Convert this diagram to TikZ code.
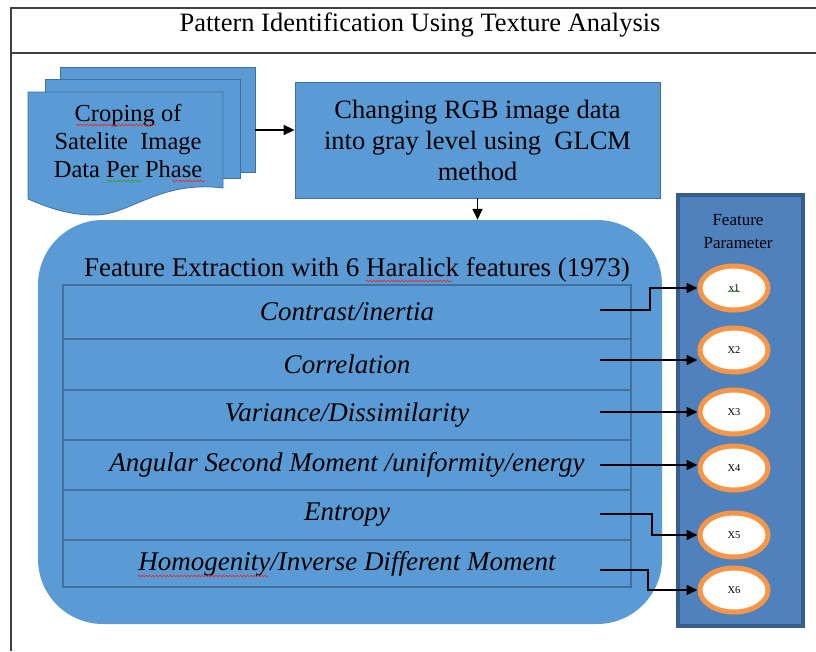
\documentclass[tikz,border=0pt]{standalone}
\usepackage{fontspec}
\setmainfont{Liberation Serif}
\usetikzlibrary{arrows.meta,shapes.geometric,calc,decorations.pathmorphing}
\definecolor{boxblue}{HTML}{5B9BD5}
\definecolor{boxedge}{HTML}{41719C}
\definecolor{panelfill}{HTML}{4F81BD}
\definecolor{paneledge}{HTML}{385D8A}
\definecolor{ovalorange}{HTML}{F79646}
\definecolor{framegray}{HTML}{404040}
\definecolor{spellred}{HTML}{E03030}
\definecolor{spellgreen}{HTML}{30A030}
\newcommand\fA{\fontsize{26.5}{31}\selectfont}
\newcommand\fE{\fontsize{27}{31}\selectfont}
\newcommand\fB{\fontsize{24.5}{28}\selectfont}
\newcommand\fC{\fontsize{17}{23}\selectfont}
\newcommand\fD{\fontsize{10.5}{12}\selectfont}
\begin{document}
\begin{tikzpicture}[x=1pt,y=-1pt,
  sheet/.style={draw=boxedge,line width=0.8pt,fill=boxblue,rectangle,minimum width=195pt,inner sep=0pt},
  bluebox/.style={draw=boxedge,line width=0.8pt,fill=boxblue,rectangle,inner sep=0pt,align=center,font=\fA},
  rowbox/.style={draw=boxedge,line width=1.2pt,rectangle,minimum width=568pt,inner sep=0pt,font=\fE\itshape},
  oval/.style={ellipse,draw=ovalorange,line width=5pt,fill=white,minimum width=68pt,minimum height=44pt,inner sep=0pt,font=\fD},
  arr/.style={line width=1.5pt,-{Triangle[length=11pt,width=10pt]}},
  squig/.style={line width=0.7pt,decorate,decoration={snake,amplitude=0.9pt,segment length=3.5pt}}
]
\useasboundingbox (0,0) rectangle (816,651);
% outer frame
\draw[framegray,line width=2.2pt] (816,8) -- (11,8) -- (11,651);
\draw[framegray,line width=1.5pt] (11,53) -- (816,53);
\node[font=\fA,anchor=base] (title) at (420,31) {Pattern Identification Using Texture Analysis};

% stacked documents
\node[sheet,minimum height=105pt] (back) at (157.5,119.5) {};
\node[sheet,minimum height=99pt] (mid) at (142.5,128.5) {};
\draw[draw=boxedge,line width=0.8pt,fill=boxblue] (28,92) -- (223,92) -- (223,188)
  .. controls (160,180) and (130,215) .. (95,215)
  .. controls (65,215) and (45,206) .. (28,199) -- cycle;
\node[font=\fB,align=center] (doc) at (128,141) {Croping of\\Satelite~ Image\\Data Per Phase};
\draw[squig,spellred] (76,125) -- (156,125);
\draw[squig,spellgreen] (106,181) -- (142,181);
\draw[squig,spellred] (172,181) -- (205,181);

% GLCM box
\node[bluebox,minimum width=365pt,minimum height=116pt] (glcm) at (477.5,140)
  {Changing RGB image data\\into gray level using~ GLCM\\method};
\coordinate (d0) at (255,130);
\draw[arr] (d0) -- (d0 -| glcm.west);

% feature extraction box
\node[fill=boxblue,rectangle,rounded corners=65pt,minimum width=624pt,minimum height=404pt,inner sep=0pt] (fe) at (350,422) {};
\draw[arr] (glcm.south) -- (glcm.south |- fe.north);
\node[font=\fE,anchor=base] (fetitle) at (357,276) {Feature Extraction with 6 Haralick features (1973)};
\draw[squig,spellred] (366,281) -- (452,281);

\node[rowbox,minimum height=54pt] (r1) at (347,312) {Contrast/inertia};
\node[rowbox,minimum height=51pt] (r2) at (347,364.5) {Correlation};
\node[rowbox,minimum height=50pt] (r3) at (347,415) {Variance/Dissimilarity};
\node[rowbox,minimum height=50pt] (r4) at (347,465) {Angular Second Moment /uniformity/energy};
\node[rowbox,minimum height=50pt] (r5) at (347,515) {Entropy};
\node[rowbox,minimum height=47pt] (r6) at (347,563.5) {Homogenity/Inverse Different Moment};
\draw[squig,spellred] (138,576) -- (268,576);

% feature parameter panel
\node[draw=paneledge,line width=3.5pt,fill=panelfill,rectangle,minimum width=125pt,minimum height=431pt,inner sep=0pt] (panel) at (740.5,410.5) {};
\node[font=\fC,align=center] (ptitle) at (738,232) {Feature\\Parameter};

\node[oval] (e1) at (734,288) {x1};
\node[oval] (e2) at (734,350) {X2};
\node[oval] (e3) at (734,412) {X3};
\node[oval] (e4) at (734,468) {X4};
\node[oval] (e5) at (734,535) {X5};
\node[oval] (e6) at (734,590) {X6};
\draw[spellgreen,line width=0.8pt] ($(e1.center)+(-6,3)$) -- ($(e1.center)+(6,3)$);

\coordinate (s1) at (600,310);
\coordinate (s2) at (600,360);
\coordinate (s3) at (600,412);
\coordinate (s4) at (600,465);
\coordinate (s5) at (600,514);
\coordinate (s6) at (600,570);
\draw[arr] (s1) -- ++(50,0) |- (e1.west);
\draw[arr] (s2) -- (s2 -| e2.west);
\draw[arr] (s3) -- (s3 -| e3.west);
\draw[arr] (s4) -- (s4 -| e4.west);
\draw[arr] (s5) -- ++(52,0) |- (e5.west);
\draw[arr] (s6) -- ++(48,0) |- (e6.west);
\end{tikzpicture}
\end{document}
